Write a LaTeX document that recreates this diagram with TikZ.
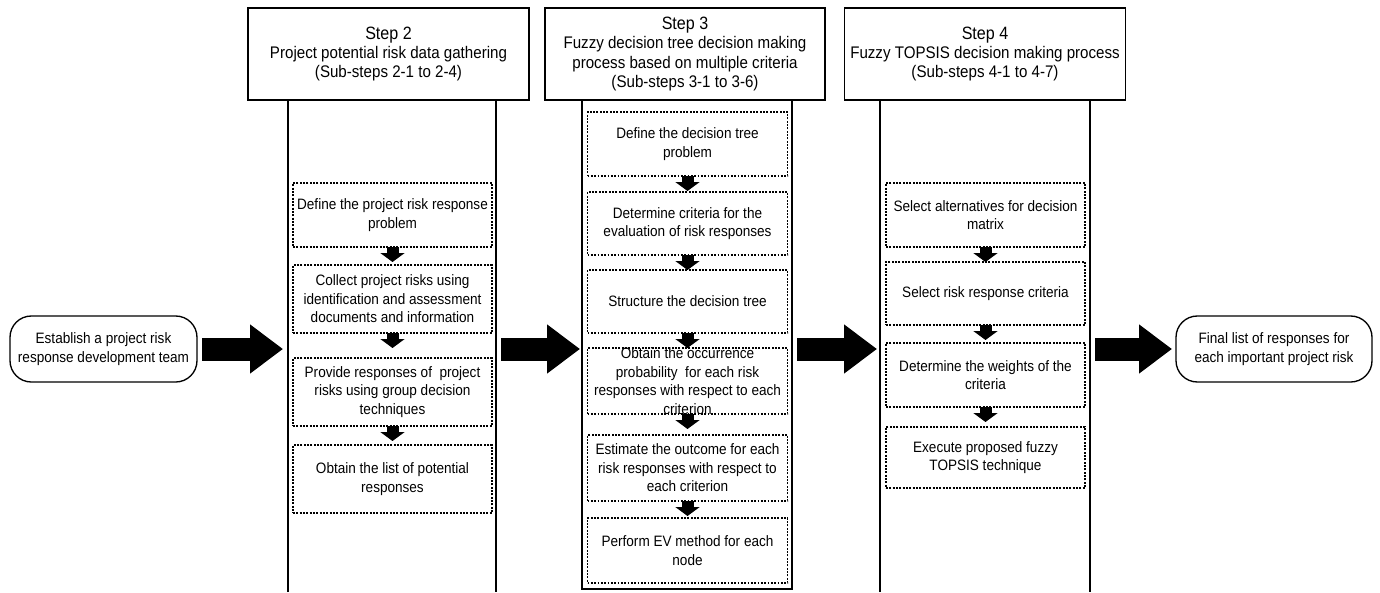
\documentclass[tikz,border=0pt]{standalone}
\usepackage{fontspec}
\setmainfont{Liberation Sans}[FakeStretch=0.9]
\usetikzlibrary{arrows.meta}
\newcommand\bodyfont{\fontsize{11.3pt}{13.9pt}\selectfont}
\newcommand\hdfont{\fontsize{12.6pt}{14.6pt}\selectfont}
\newcommand\stepfont{\fontsize{13.4pt}{14.6pt}\selectfont}
\begin{document}
\begin{tikzpicture}[x=0.75pt,y=-0.75pt,
  every node/.style={inner sep=0pt, outer sep=0pt, align=center},
  pill/.style={draw, line width=1pt, rounded corners=16pt, minimum height=49.5pt, font=\bodyfont},
  header/.style={draw, line width=0.9pt, minimum height=69pt, fill=white, font=\hdfont},
  column/.style={minimum height=369pt, minimum width=157.5pt},
  frame/.style={line width=0.9pt},
  substep/.style={draw, line width=0.9pt, dash pattern=on 1.4pt off 1.1pt, font=\bodyfont},
  col2/.style={substep, minimum width=149.25pt},
  col3/.style={substep, minimum width=150pt},
  col4/.style={substep, minimum width=149.25pt},
  flow/.style={line width=9pt, -{Triangle[width=18pt,length=6.75pt]}},
  bigflow/.style={line width=17.25pt, -{Triangle[width=35.25pt,length=24.75pt]}},
]
\useasboundingbox (0,0) rectangle (1380,592);

% start and end of the process
\node[pill, minimum width=140.25pt] (L) at (103.5,349) {Establish a project risk\\response development team};
\node[pill, minimum width=147pt] (R) at (1274,349) {Final list of responses for\\each important project risk};

% columns holding the sub-steps
\node[column, minimum width=156pt] (c2) at (392,346) {};
\draw[frame] (c2.south west) -- (c2.north west) -- (c2.north east) -- (c2.south east);
\node[column, draw, frame, minimum height=366.75pt] (c3) at (687,344.5) {};
\node[column] (c4) at (985,346) {};
\draw[frame] (c4.south west) -- (c4.north west) -- (c4.north east) -- (c4.south east);

% step headers
\node[header, minimum width=210.75pt] (h2) at (388.5,54)
  {{\stepfont Step 2}\\Project potential risk data gathering\\(Sub-steps 2-1 to 2-4)};
\node[header, minimum width=210pt] (h3) at (685,54)
  {{\stepfont Step 3}\\Fuzzy decision tree decision making\\process based on multiple criteria\\(Sub-steps 3-1 to 3-6)};
\node[header, minimum width=210.75pt] (h4) at (985,54)
  {{\stepfont Step 4}\\Fuzzy TOPSIS decision making process\\(Sub-steps 4-1 to 4-7)};

% step 2 sub-steps
\node[col2, minimum height=48pt] (b21) at (392.5,215) {Define the project risk response\\problem};
\node[col2, minimum height=51pt] (b22) at (392.5,299) {Collect project risks using\\identification and assessment\\documents and information};
\node[col2, minimum height=51pt] (b23) at (392.5,392) {Provide responses of\ \ project\\risks using group decision\\techniques};
\node[col2, minimum height=51pt] (b24) at (392.5,479) {Obtain the list of potential\\responses};

% step 3 sub-steps
\node[col3, minimum height=48pt] (b31) at (687.5,144) {Define the decision tree\\problem};
\node[col3, minimum height=47.25pt] (b32) at (687.5,223.5) {Determine criteria for the\\evaluation of risk responses};
\node[col3, minimum height=47.25pt] (b33) at (687.5,301.5) {Structure the decision tree};
\node[col3, minimum height=49.5pt] (b34) at (687.5,381) {};
\node[font=\bodyfont] (b34t) at (b34) {Obtain the occurrence\\probability\ \ for each risk\\responses with respect to each\\criterion};
\node[col3, minimum height=49.5pt] (b35) at (687.5,468) {Estimate the outcome for each\\risk responses with respect to\\each criterion};
\node[col3, minimum height=48.75pt] (b36) at (687.5,550.5) {Perform EV method for each\\node};

% step 4 sub-steps
\node[col4, minimum height=48pt] (b41) at (985.5,215) {Select alternatives for decision\\matrix};
\node[col4, minimum height=47.25pt] (b42) at (985.5,293.5) {Select risk response criteria};
\node[col4, minimum height=48pt] (b43) at (985.5,375) {Determine the weights of the\\criteria};
\node[col4, minimum height=45.75pt] (b44) at (985.5,457.5) {Execute proposed fuzzy\\TOPSIS technique};

% arrows between sub-steps
\draw[flow, shorten >=2.25pt] (b21) -- (b22);
\draw[flow, shorten >=7.5pt] (b22) -- (b23);
\draw[flow, shorten >=3pt] (b23) -- (b24);
\draw[flow, shorten >=0.75pt] (b31) -- (b32);
\draw[flow] (b32) -- (b33);
\draw[flow] (b33) -- (b34);
\draw[flow, shorten >=4.5pt] (b34) -- (b35);
\draw[flow, shorten >=1.5pt] (b35) -- (b36);
\draw[flow] (b41) -- (b42);
\draw[flow, shorten >=2.25pt] (b42) -- (b43);
\draw[flow, shorten >=3.75pt] (b43) -- (b44);

% main flow between the stages
\draw[bigflow] ([xshift=3.75pt]L.east) -- ([xshift=-3.75pt]L.east -| c2.west);
\draw[bigflow] ([xshift=3.75pt]c2.east |- L.east) -- ([xshift=-1.5pt]c3.west |- L.east);
\draw[bigflow] ([xshift=3.75pt]c3.east |- L.east) -- ([xshift=-2.25pt]c4.west |- L.east);
\draw[bigflow] ([xshift=3.75pt]c4.east |- R.west) -- ([xshift=-3pt]R.west);
\end{tikzpicture}
\end{document}
